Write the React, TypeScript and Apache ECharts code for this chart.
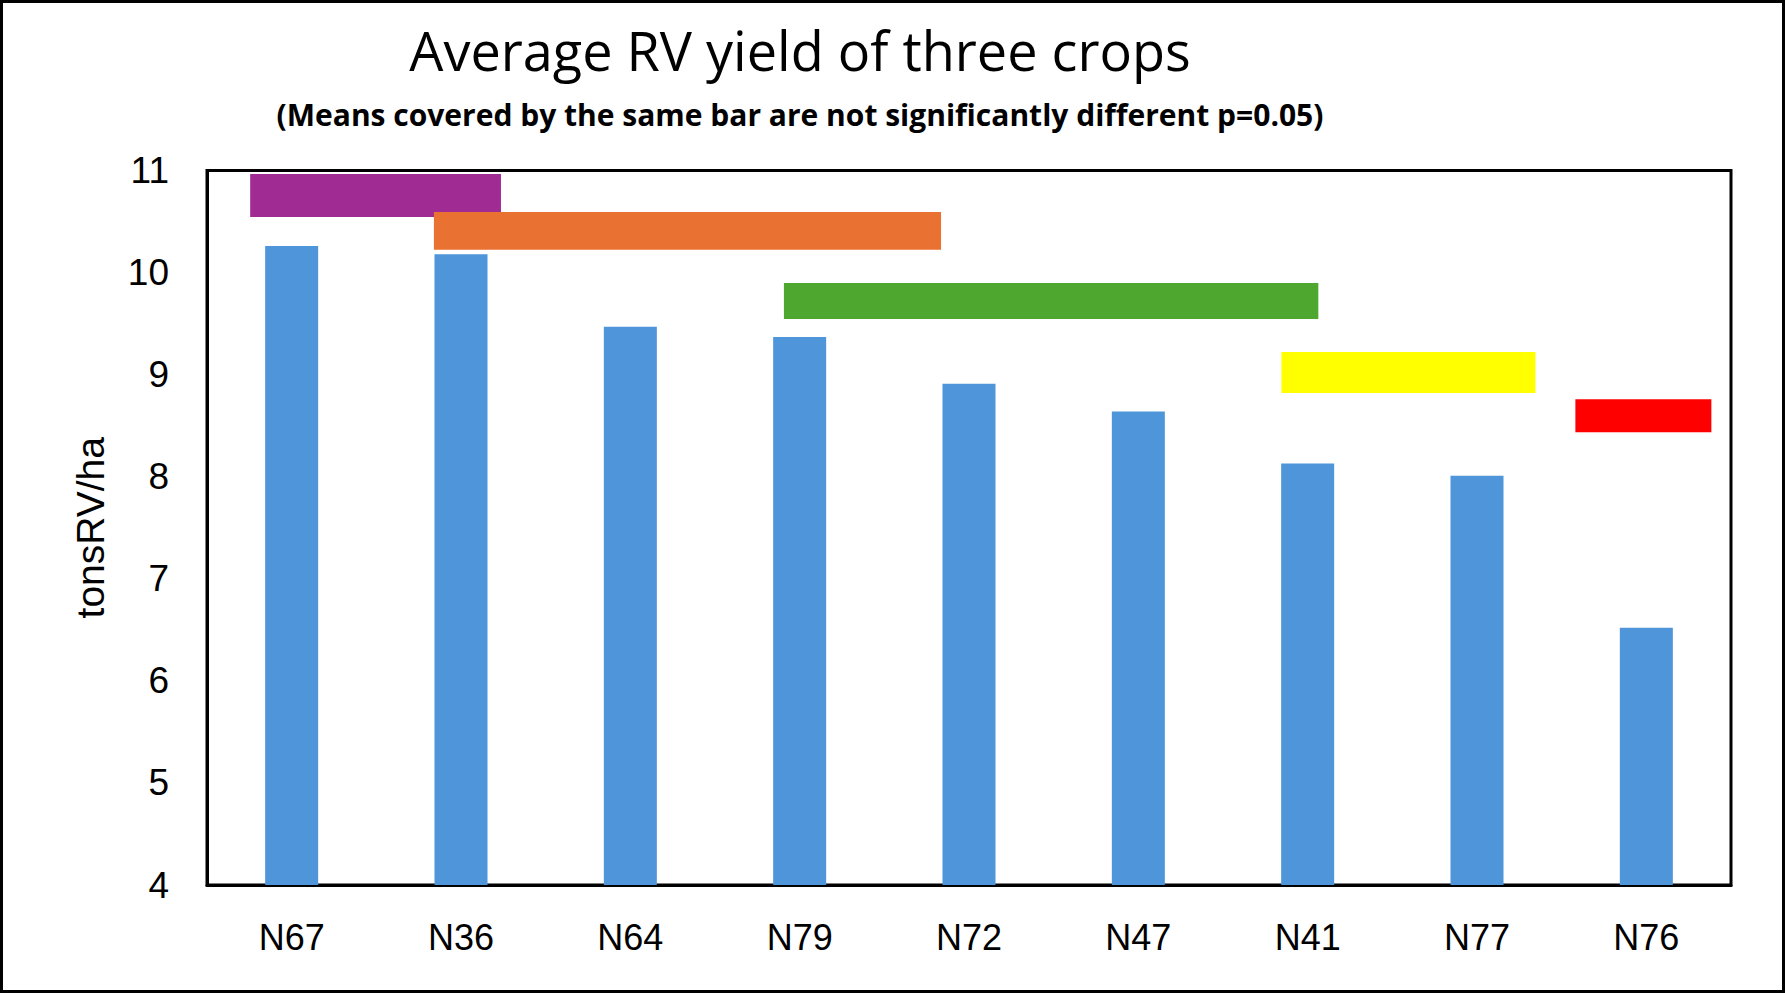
import React, { useEffect, useRef } from "react";
import * as echarts from "echarts";

const categories = ["N67", "N36", "N64", "N79", "N72", "N47", "N41", "N77", "N76"];
const yieldValues = [10.26, 10.18, 9.47, 9.37, 8.91, 8.64, 8.13, 8.01, 6.52];
const yTicks = [4, 5, 6, 7, 8, 9, 10, 11];

// significance bands (in category-index units along x, value units along y)
const bandStart = [-0.245, 0.84, 2.907, 5.845, 7.581];
const bandEnd = [1.236, 3.835, 6.063, 7.345, 8.384];
const bandTop = [10.966, 10.593, 9.897, 9.221, 8.76];
const bandBottom = [10.544, 10.223, 9.544, 8.819, 8.436];
const bandColors = ["#A02B93", "#E97132", "#4EA72E", "#FFFF00", "#FF0000"];

const TITLE = "Average RV yield of three crops";
const SUBTITLE = "(Means covered by the same bar are not significantly different p=0.05)";
const Y_NAME = "tonsRV/ha";

export default function App() {
  const ref = useRef<HTMLDivElement>(null);
  useEffect(() => {
    document.body.style.margin = "0";
    const chart = echarts.init(ref.current!, null, { renderer: "svg" });
    const bandData = bandStart.map((s, i) => [s, bandEnd[i], bandTop[i], bandBottom[i], i]);
    chart.setOption({
      animation: false,
      backgroundColor: "#fff",
      grid: {
        left: 207,
        top: 170.5,
        right: 54,
        bottom: 108,
        show: true,
        borderColor: "#000",
        borderWidth: 3,
        backgroundColor: "transparent",
      },
      xAxis: [
        {
          type: "category",
          data: categories,
          axisLine: { show: true, onZero: false, lineStyle: { color: "#000", width: 3 } },
          axisTick: { show: false },
          axisLabel: {
            color: "#000",
            fontFamily: "Liberation Sans",
            fontSize: 36,
            margin: 34,
          },
          splitLine: { show: false },
        },
        {
          type: "value",
          min: -0.5,
          max: 8.5,
          show: false,
          position: "top",
        },
      ],
      yAxis: {
        type: "value",
        min: yTicks[0],
        max: yTicks[yTicks.length - 1],
        interval: 1,
        name: Y_NAME,
        nameLocation: "middle",
        nameGap: 97,
        nameTextStyle: {
          color: "#000",
          fontFamily: "Liberation Sans",
          fontSize: 39,
        },
        axisLine: { show: true, onZero: false, lineStyle: { color: "#000", width: 3 } },
        axisTick: { show: false },
        splitLine: { show: false },
        axisLabel: {
          color: "#000",
          fontFamily: "Liberation Sans",
          fontSize: 37,
          margin: 38,
        },
      },
      series: [
        {
          type: "bar",
          data: yieldValues,
          barWidth: "31.3%",
          itemStyle: { color: "#4F95D9" },
          z: 2,
        },
        {
          type: "custom",
          xAxisIndex: 1,
          yAxisIndex: 0,
          data: bandData,
          z: 3,
          renderItem: (params: any, api: any) => {
            const p0 = api.coord([api.value(0), api.value(2)]);
            const p1 = api.coord([api.value(1), api.value(3)]);
            const idx = api.value(4);
            return {
              type: "rect",
              shape: { x: p0[0], y: p0[1], width: p1[0] - p0[0], height: p1[1] - p0[1] },
              style: { fill: bandColors[idx] },
            };
          },
        },
      ],
      graphic: [
        {
          type: "rect",
          shape: { x: 1.5, y: 1.5, width: 1782, height: 990 },
          style: { fill: "none", stroke: "#000", lineWidth: 3 },
          silent: true,
          z: 100,
        },
        {
          type: "text",
          x: 800,
          y: 50,
          style: {
            text: TITLE,
            fill: "#000",
            font: "54px 'Open Sans'",
            align: "center",
            verticalAlign: "middle",
          },
        },
        {
          type: "text",
          x: 800,
          y: 114,
          style: {
            text: SUBTITLE,
            fill: "#000",
            font: "bold 30px 'Open Sans'",
            align: "center",
            verticalAlign: "middle",
          },
        },
      ],
    });
    return () => chart.dispose();
  }, []);
  return <div ref={ref} style={{ width: 1785, height: 993 }} />;
}
